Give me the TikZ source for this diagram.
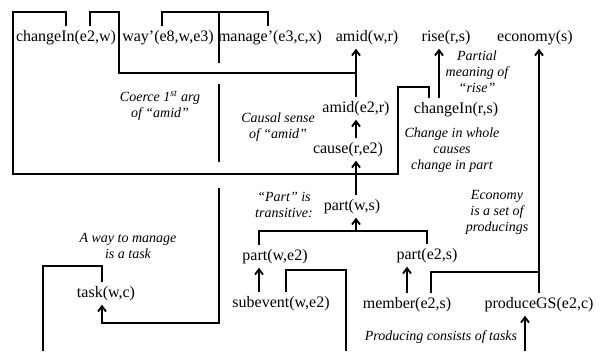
\documentclass[tikz,border=0pt]{standalone}
\usepackage{fontspec}
\setmainfont{Liberation Serif}
\usetikzlibrary{arrows.meta, calc}

\begin{document}
\begin{tikzpicture}[x=0.75pt, y=-0.75pt,
    term/.style={anchor=base, inner xsep=0pt, inner ysep=3pt, font=\fontsize{12}{14}\selectfont},
    note/.style={align=center, font=\fontsize{10.5}{12}\selectfont\itshape},
    link/.style={line width=1.4pt},
    arr/.style={link, -{Straight Barb[length=4pt, width=6pt]}}]
        \useasboundingbox (0,0) rectangle (602,351);
        \coordinate (sw) at (0,351);

        \node[term] (chgEW) at (66,41) {changeIn(e2,w)};
        \node[term] (way) at (168,41) {way'(e8,w,e3)};
        \node[term] (manage) at (270,41) {manage'(e3,c,x)};
        \node[term] (amidWR) at (367,41) {amid(w,r)};
        \node[term] (riseRS) at (446,41) {rise(r,s)};
        \node[term] (econ) at (535,41) {economy(s)};
        \node[term] (amidER) at (356,112) {amid(e2,r)};
        \node[term] (chgRS) at (456,113) {changeIn(r,s)};
        \node[term] (causeRE) at (348,153) {cause(r,e2)};
        \node[term] (partWS) at (352,210) {part(w,s)};
        \node[term] (partWE) at (275,260) {part(w,e2)};
        \node[term] (partES) at (427,259) {part(e2,s)};
        \node[term] (task) at (106,297) {task(w,c)};
        \node[term] (subev) at (281,307) {subevent(w,e2)};
        \node[term] (member) at (407,308) {member(e2,s)};
        \node[term] (prodGS) at (539,308) {produceGS(e2,c)};

        \node[note] (lblCoerce) at (160,106) {Coerce 1\textsuperscript{st} arg\\of ``amid''};
        \node[note] (lblCausal) at (278,127) {Causal sense\\of ``amid''};
        \node[note] (lblRise) at (477,72) {Partial\\meaning of\\``rise''};
        \node[note] (lblChange) at (452,150) {Change in whole\\causes\\change in part};
        \node[note] (lblEcon) at (497,212) {Economy\\is a set of\\producings};
        \node[note] (lblPart) at (284,205) {``Part'' is\\transitive:};
        \node[note] (lblWay) at (128,246) {A way to manage\\is a task};
        \node[note] (lblProd) at (441,337) {Producing consists of tasks};

        \coordinate (wm) at ($(way.north)!0.5!(manage.north)$);
        \draw[link] ([xshift=-4.5pt]way.north) -- ++(0,-14) -| ([xshift=-1.5pt]manage.north);
        \draw[link] (wm) ++(0,-14) -- ++(0,51);
        \draw[link] (wm) ++(0,58) -- ++(0,78);
        \draw[arr] (wm) ++(0,162) -- ++(0,135) -| ([xshift=-3pt]task.south);
        \draw[link] ([xshift=-3pt]task.north) -- ++(0,-16) -| ++(-59,85);

        \draw[link] (chgEW.north) -- ++(0,-14) -| ++(-53,162) -| ++(385,-87) -| ([xshift=-20.25pt]chgRS.north);
        \draw[arr] ([xshift=-12.75pt]chgRS.north) -- ([xshift=-12.75pt]chgRS.north |- riseRS.south);

        \coordinate (j1) at ($(amidER.north)!0.5!(amidER.north |- amidWR.south)$);
        \draw[arr] (amidER.north) -- (amidER.north |- amidWR.south);
        \draw[link] ([xshift=18pt]chgEW.north) |- ++(29,-14) |- (j1);
        \draw[arr] (amidER.south |- causeRE.north) -- (amidER.south);
        \draw[arr] (amidER.south |- partWS.north) -- (amidER.south |- causeRE.south);

        \draw[link] ([xshift=-12pt]partWE.north) -- ++(0,-14) -| (partES.north);
        \path ([xshift=-12pt]partWE.north) ++(0,-14) coordinate (jt);
        \draw[arr] (amidER.south |- jt) -- (amidER.south |- partWS.south);
        \draw[arr] ([xshift=-12pt]partWE.south |- subev.north) -- ([xshift=-12pt]partWE.south);
        \draw[link] ([xshift=3.75pt]subev.north) -- ++(0,-22) -| ++(60,81);

        \draw[arr] (member.north) -- (member.north |- partES.south);
        \draw[arr] (prodGS.north) -- (prodGS.north |- econ.south);
        \draw[link] ([xshift=18pt]member.north) -- ++(0,-21) -| (prodGS.north);
        \draw[arr] ([xshift=-10.5pt]prodGS.south |- sw) -- ([xshift=-10.5pt]prodGS.south);
    \end{tikzpicture}
\end{document}
